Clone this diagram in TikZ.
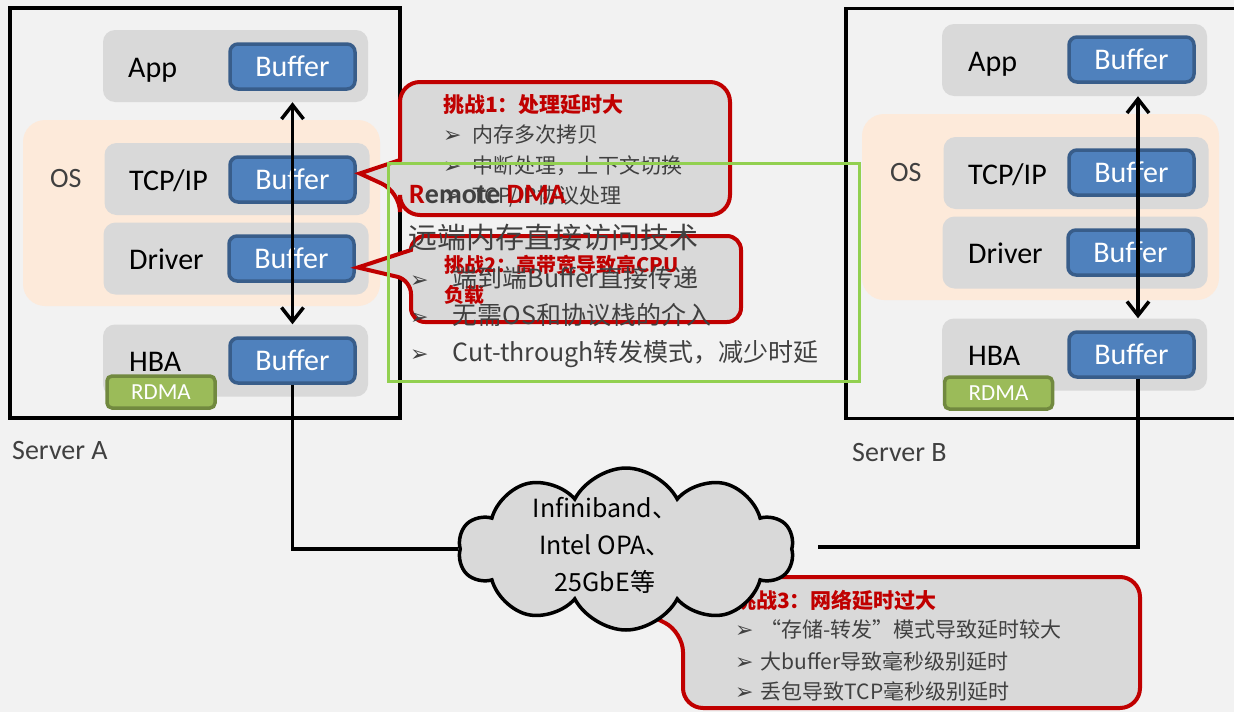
\documentclass[tikz,border=0pt]{standalone}
\usepackage{fontspec}
\setmainfont{Carlito}
\newfontfamily\cjk{Noto Sans CJK SC}
\newfontfamily\symf{DejaVu Sans}
\usetikzlibrary{shapes.symbols,arrows.meta,positioning}

\definecolor{slidebg}{HTML}{F2F2F2}
\definecolor{rowgray}{HTML}{D9D9D9}
\definecolor{bufblue}{HTML}{4F81BD}
\definecolor{bufedge}{HTML}{385D8A}
\definecolor{ospeach}{HTML}{FDEADA}
\definecolor{rdmagreen}{HTML}{9BBB59}
\definecolor{rdmaedge}{HTML}{71893F}
\definecolor{challred}{HTML}{C00000}
\definecolor{boxgreen}{HTML}{92D050}
\definecolor{txtgray}{HTML}{404040}

\newcommand{\tick}{{\symf\fontsize{22}{22}\selectfont ➢}}

\begin{document}
\begin{tikzpicture}[x=1pt, y=-1pt,
    server/.style={draw, line width=3.5pt, minimum width=390pt, minimum height=410pt, inner sep=0pt},
    osarea/.style={fill=ospeach, rounded corners=22pt, minimum width=357pt, minimum height=186pt},
    layer/.style={fill=rowgray, rounded corners=12pt, minimum width=265pt, minimum height=72pt},
    buf/.style={fill=bufblue, draw=bufedge, line width=3.5pt, rounded corners=8pt, minimum width=125pt, minimum height=45pt, text=white, font=\fontsize{30}{36}\selectfont},
    lbl/.style={anchor=base west, inner sep=0pt, font=\fontsize{30}{36}\selectfont},
    oslbl/.style={anchor=base west, inner sep=0pt, text=txtgray, font=\fontsize{28}{34}\selectfont},
    rdma/.style={fill=rdmagreen, draw=rdmaedge, line width=3.5pt, rounded corners=5pt, minimum width=108pt, minimum height=32pt, text=white, font=\fontsize{23}{28}\selectfont},
    srvname/.style={anchor=base west, inner sep=0pt, text=txtgray, font=\fontsize{28}{34}\selectfont},
    dbl/.style={{Straight Barb[length=14pt,width=22pt]}-{Straight Barb[length=14pt,width=22pt]}, line width=3.5pt},
    link/.style={line width=3.5pt},
    callout/.style={draw=challred, fill=rowgray, line width=4pt},
    ctitle/.style={anchor=west, inner sep=0pt, text=challred, font=\cjk\bfseries\fontsize{21}{25}\selectfont},
    citem/.style={anchor=west, inner sep=0pt, text=txtgray, font=\cjk\fontsize{21}{25}\selectfont},
    gitem/.style={anchor=west, inner sep=0pt, text=txtgray, font=\cjk\fontsize{25}{30}\selectfont}
]

% background
\useasboundingbox (0,0) rectangle (1234,712);
\fill[slidebg] (0,0) rectangle (1234,712);

% Server A
\node[server] (srvA) at (205,213) {};
\node[osarea] (osA) at (201.5,213) {};
\node[oslbl] (osAt) at (50,187) {OS};
\node[layer] (appA) at (235.5,66) {};
\node[lbl] (appAt) at (128,77) {App};
\node[buf] (bufAppA) at (292.5,66.5) {Buffer};
\node[layer] (tcpA) at (237,179) {};
\node[lbl] (tcpAt) at (129,190) {TCP/IP};
\node[buf] (bufTcpA) at (292.5,179.5) {Buffer};
\node[layer] (drvA) at (236,258.5) {};
\node[lbl] (drvAt) at (129,269) {Driver};
\node[buf] (bufDrvA) at (291.5,258.5) {Buffer};
\node[layer] (hbaA) at (235.5,360.5) {};
\node[lbl] (hbaAt) at (129,371) {HBA};
\node[buf] (bufHbaA) at (292.5,360.5) {Buffer};
\node[rdma] (rdmaA) at (161,392) {RDMA};
\draw[dbl] (bufAppA.center |- appA.south) -- (bufAppA.center |- hbaA.north);
\node[srvname] (nameA) at (12,459) {Server A};

% Server B
\node[server] (srvB) at (1041,213.5) {};
\node[osarea] (osB) at (1040.5,207) {};
\node[oslbl] (osBt) at (890,181) {OS};
\node[layer] (appB) at (1074.5,60) {};
\node[lbl] (appBt) at (968,71) {App};
\node[buf] (bufAppB) at (1131.5,59.5) {Buffer};
\node[layer] (tcpB) at (1076,173) {};
\node[lbl] (tcpBt) at (968,184) {TCP/IP};
\node[buf] (bufTcpB) at (1131.5,172.5) {Buffer};
\node[layer] (drvB) at (1075,252.5) {};
\node[lbl] (drvBt) at (968,263) {Driver};
\node[buf] (bufDrvB) at (1130.5,252.5) {Buffer};
\node[layer] (hbaB) at (1074.5,354.5) {};
\node[lbl] (hbaBt) at (968,365) {HBA};
\node[buf] (bufHbaB) at (1131.5,354.5) {Buffer};
\node[rdma] (rdmaB) at (998.5,393) {RDMA};
\coordinate (axB) at ([xshift=6.5pt]bufAppB.center);
\draw[dbl] (axB |- appB.south) -- (axB |- hbaB.north);
\node[srvname] (nameB) at (852,461) {Server B};

% challenge 1
\draw[callout] ([xshift=3pt,yshift=6pt]bufTcpA.east) -- (400,160) [rounded corners=20pt] -- (400,82) -- (730,82) -- (730,215) -- (400,215) -- (400,192) [sharp corners] -- cycle;
\node[ctitle] (ch1) at (443,105) {挑战1：处理延时大};
\node[citem] (ch1a) at (443,135) {\tick\hspace{11pt}内存多次拷贝};
\node[citem] (ch1b) at (443,166) {\tick\hspace{11pt}中断处理，上下文切换};
\node[citem] (ch1c) at (443,197) {\tick\hspace{11pt}TCP/IP协议处理};

% challenge 2
\draw[callout] ([xshift=2pt,yshift=-9pt]bufDrvA.east) -- (411,250) [rounded corners=14pt] -- (411,236) -- (741,236) -- (741,322) -- (411,322) -- (411,280) [sharp corners] -- cycle;
\node[ctitle, font=\cjk\bfseries\fontsize{20}{24}\selectfont] (ch2) at (444,265) {挑战2：高带宽导致高CPU};
\node[ctitle, font=\cjk\bfseries\fontsize{20}{24}\selectfont] (ch2b) at (444,295) {负载};

% RDMA box
\node[draw=boxgreen, line width=3pt, minimum width=471pt, minimum height=218pt] (rdmabox) at (623.5,272) {};
\node[anchor=base west, inner sep=0pt, text=txtgray, font=\bfseries\fontsize{28}{34}\selectfont] (rdmat) at (409,203) {\textcolor{challred}{R}emote \textcolor{challred}{DMA}};
\node[gitem, font=\cjk\fontsize{29}{34}\selectfont] (rdmas) at (408,237) {远端内存直接访问技术};
\node[gitem] (rdma1) at (410,278) {\tick\hspace{24pt}端到端Buffer直接传递};
\node[gitem] (rdma2) at (410,315) {\tick\hspace{24pt}无需OS和协议栈的介入};
\node[gitem] (rdma3) at (410,354) {\tick\hspace{24pt}Cut-through转发模式，减少时延};

% challenge 3
\coordinate (c3tip) at (610,595);
\draw[callout] (c3tip) -- (705,577) [rounded corners=20pt] -- (1140,577) -- (1140,708) -- (683,708) -- (683,632) [sharp corners] -- cycle;
\node[ctitle] (ch3) at (735,600) {挑战3：网络延时过大};
\node[citem] (ch3a) at (735,630) {\tick\hspace{7pt}“存储-转发”模式导致延时较大};
\node[citem] (ch3b) at (735,661) {\tick\hspace{7pt}大buffer导致毫秒级别延时};
\node[citem] (ch3c) at (735,691) {\tick\hspace{7pt}丢包导致TCP毫秒级别延时};

% network
\node[cloud, cloud puffs=10, cloud puff arc=125, aspect=2.1, draw, line width=3.5pt, fill=rowgray, minimum width=335pt, minimum height=162pt, inner sep=0pt] (net) at (626,549) {};
\node[align=center, font=\cjk\fontsize{25}{37}\selectfont] (nett) at (605,545) {Infiniband、\\Intel OPA、\\25GbE等};
\coordinate (netB) at (818,547);
\draw[link] (bufHbaA.south) |- (net.west);
\draw[link] (axB |- bufHbaB.south) |- (netB);

\end{tikzpicture}
\end{document}
